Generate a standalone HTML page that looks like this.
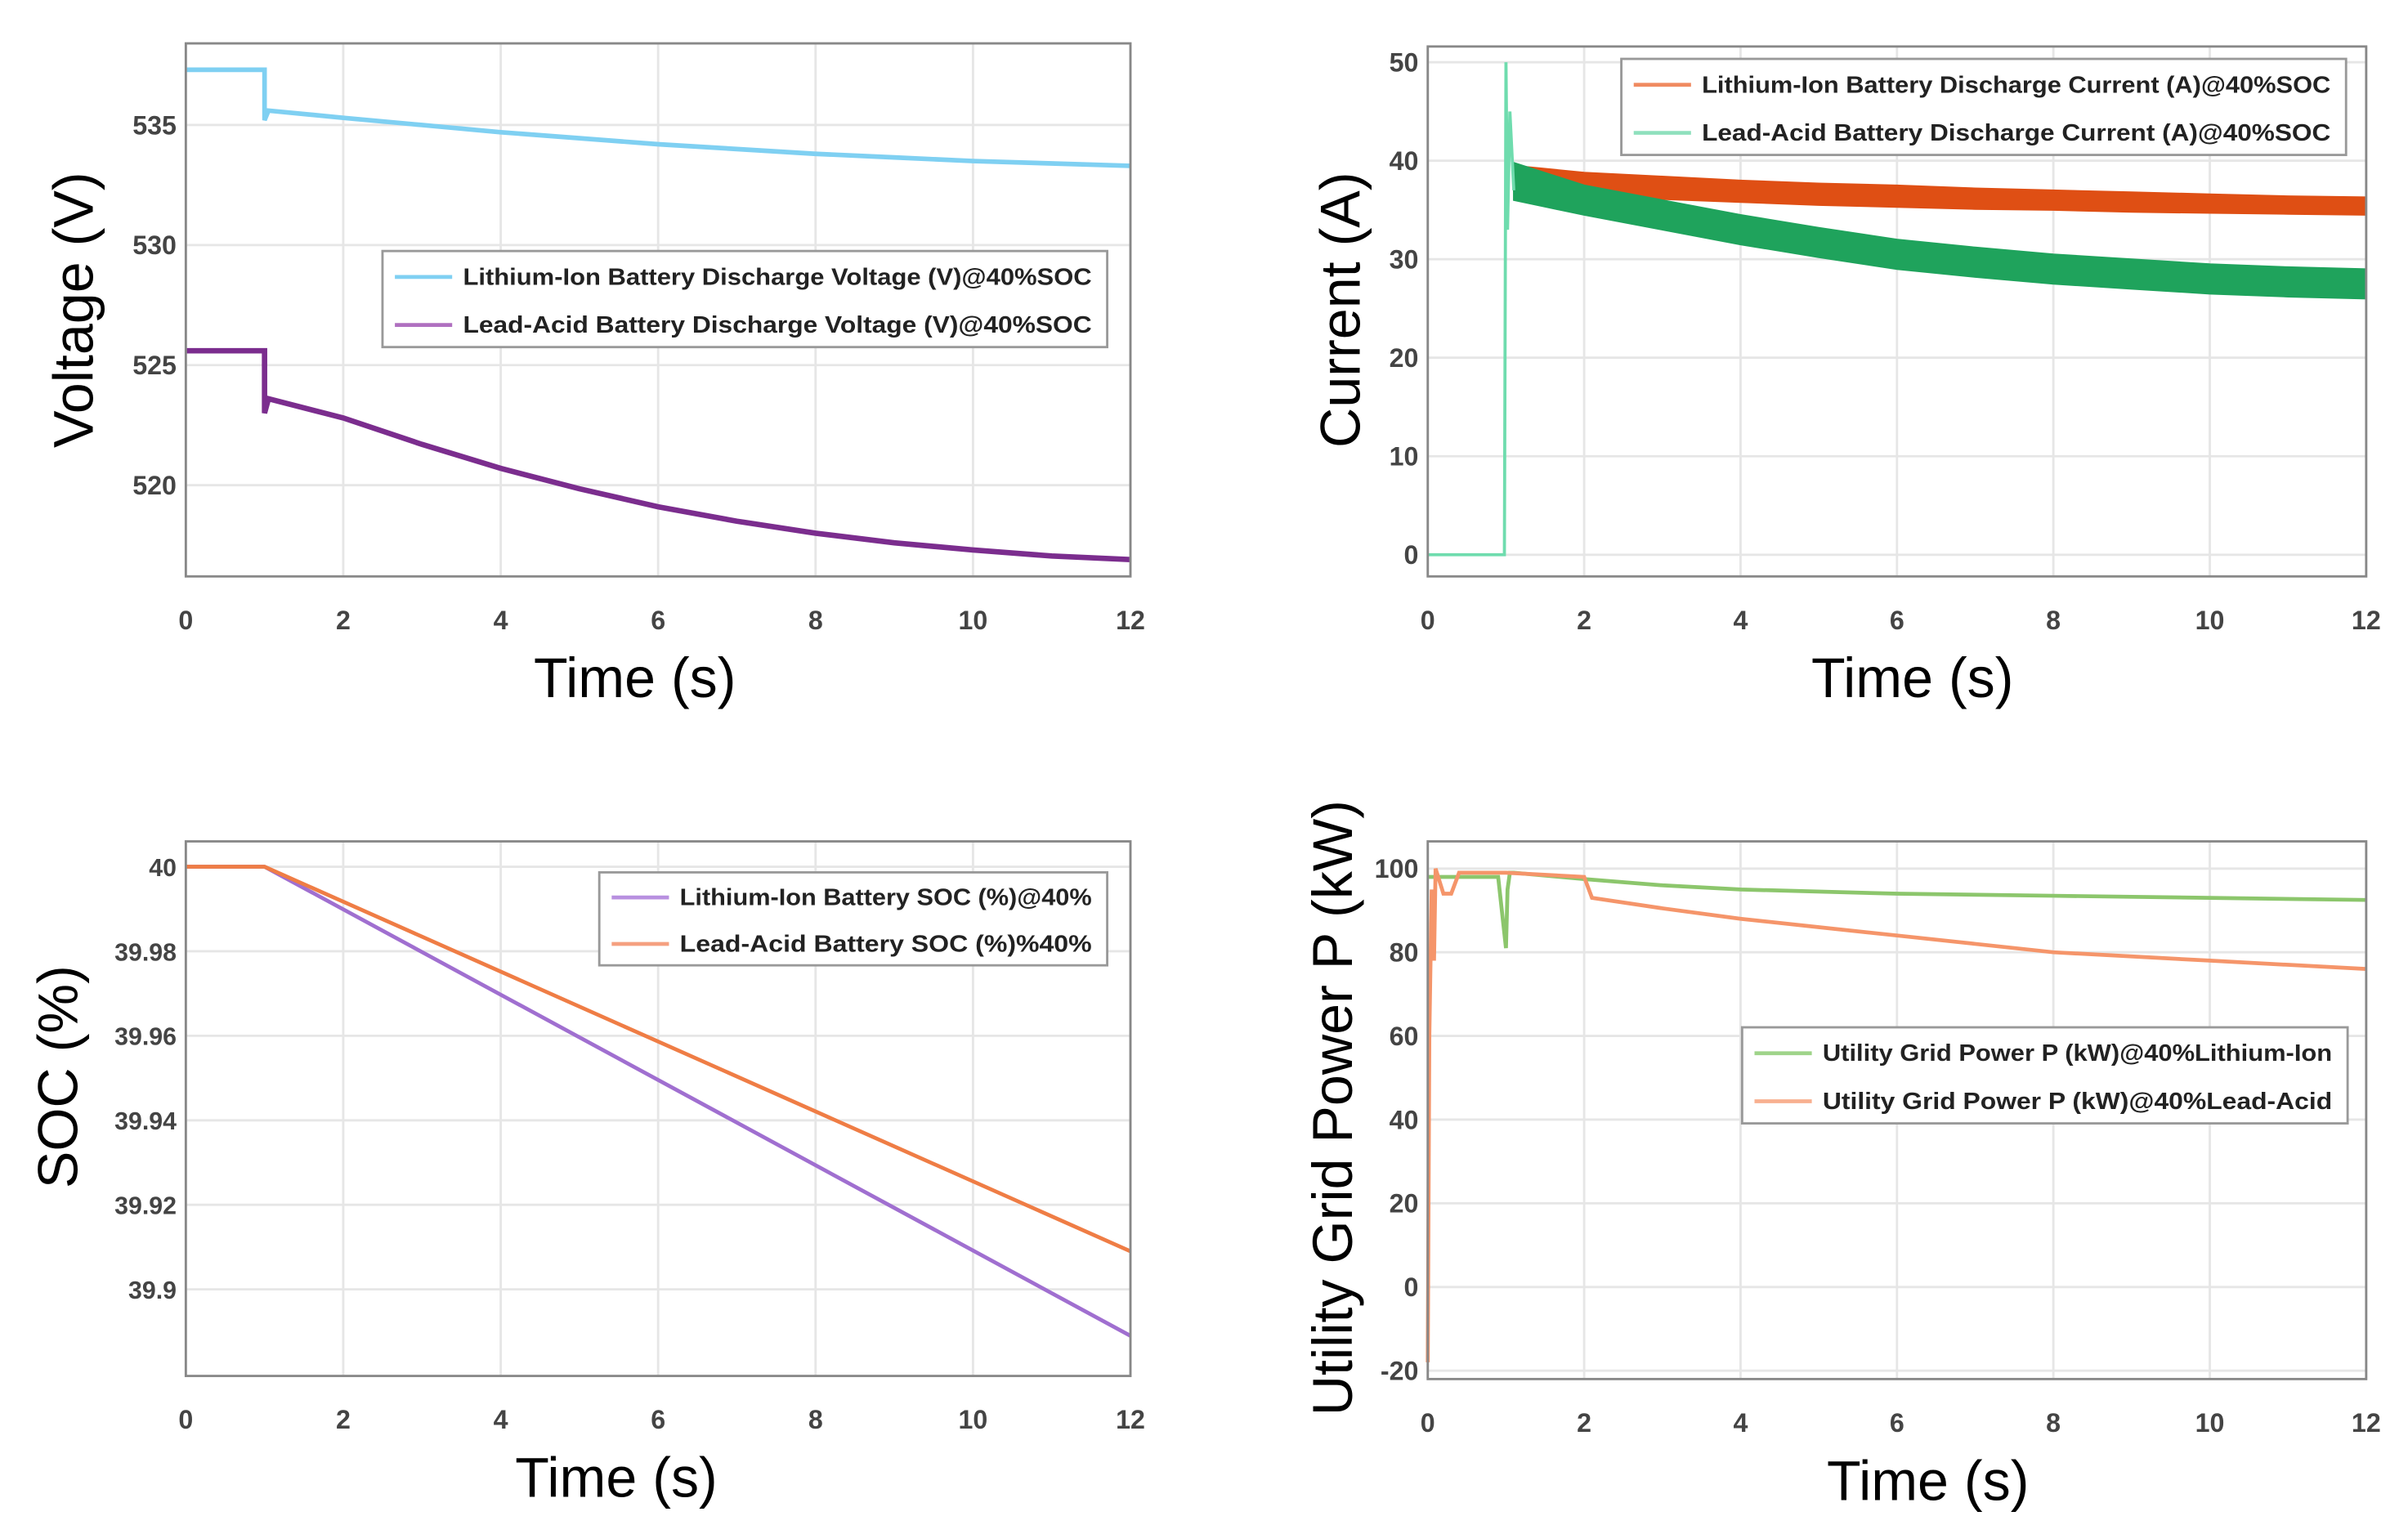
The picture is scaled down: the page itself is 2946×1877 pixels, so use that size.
<!DOCTYPE html>
<html><head><meta charset="utf-8"><style>
html,body{margin:0;padding:0;background:#fff}
svg{display:block}
text{font-family:"Liberation Sans",sans-serif}
</style></head><body>
<svg id="fig" width="2946" height="1877" viewBox="0 0 1555 990" preserveAspectRatio="none" xmlns="http://www.w3.org/2000/svg"></svg>
<script>
// ---- Data ----
const timeTicks=[0,2,4,6,8,10,12];
// Panel 1 voltage
const liVt=[0,1,1,1.05,2,3,4,5,6,7,8,9,10,11,12];
const liV=[537.3,537.3,535.2,535.6,535.3,535.0,534.7,534.45,534.2,534.0,533.8,533.65,533.5,533.4,533.3];
const laVt=[0,1,1,1.05,2,3,4,5,6,7,8,9,10,11,12];
const laV=[525.6,525.6,523,523.6,522.8,521.7,520.7,519.85,519.1,518.5,518,517.6,517.3,517.05,516.9];
const vTicks=[520,525,530,535];
// Panel 2 current
const curBandT=[1.1,2,3,4,5,6,7,8,9,10,11,12];
const liIup=[39.5,38.8,38.4,38,37.7,37.5,37.2,37,36.8,36.6,36.4,36.3];
const liIlo=[37,36.5,36.1,35.8,35.5,35.3,35.1,35,34.8,34.7,34.6,34.5];
const laIup=[39.8,37.5,36,34.5,33.2,32,31.2,30.5,30,29.5,29.2,29];
const laIlo=[36,34.5,33,31.5,30.2,29,28.2,27.5,27,26.5,26.2,26];
const spikeT=[0,0.98,1,1.02,1.05,1.1];
const spikeI=[0,0,50,33,45,37];
const iTicks=[0,10,20,30,40,50];
// Panel 3 SOC
const socT=[0,1,12];
const liSoc=[40,40,39.889];
const laSoc=[40,40,39.909];
const socTicks=[39.9,39.92,39.94,39.96,39.98,40];
const socTickLabels=["39.9","39.92","39.94","39.96","39.98","40"];
// Panel 4 power
const pLiT=[0,0.9,1,1.02,1.05,1.1,2,3,4,6,8,10,12];
const pLi=[98,98,81,95,99,99,97.5,96,95,94,93.5,93,92.5];
const pLaT=[0,0.02,0.05,0.08,0.1,0.2,0.3,0.4,1,2,2.1,3,4,5,6,7,8,9,10,11,12];
const pLa=[-18,60,95,78,100,94,94,99,99,98,93,90.5,88,86,84,82,80,79,78,77,76];
const pTicks=[-20,0,20,40,60,80,100];

const NS="http://www.w3.org/2000/svg";
const svg=document.getElementById('fig');
function el(tag,attrs,parent){const e=document.createElementNS(NS,tag);for(const k in attrs)e.setAttribute(k,attrs[k]);(parent||svg).appendChild(e);return e;}

function panel(cfg){
  const g=el('g',{});
  
  
  const X=t=>cfg.x0+(t-0)/(12-0)*(cfg.x1-cfg.x0);
  const Y=v=>cfg.y1-(v-cfg.ymin)/(cfg.ymax-cfg.ymin)*(cfg.y1-cfg.y0);
  el('rect',{x:cfg.x0,y:cfg.y0,width:cfg.x1-cfg.x0,height:cfg.y1-cfg.y0,fill:'#fff'},g);
  timeTicks.forEach(t=>{
    const l=el('line',{x1:X(t),x2:X(t),y1:cfg.y0,y2:cfg.y1,stroke:'#e6e6e6','stroke-width':1.5},g);
    
    const tx=el('text',{x:X(t),y:cfg.y1+34,'font-size':17,'text-anchor':'middle',fill:'#444','font-weight':'bold'},g);
    tx.textContent=t;
    
  });
  cfg.ticks.forEach((v,i)=>{
    const l=el('line',{x1:cfg.x0,x2:cfg.x1,y1:Y(v),y2:Y(v),stroke:'#e6e6e6','stroke-width':1.5},g);
    
    const tx=el('text',{x:cfg.x0-6,y:Y(v)+6,'font-size':cfg.tickFs||17,'text-anchor':'end',fill:'#444','font-weight':'bold'},g);
    tx.textContent=cfg.tickLabels?cfg.tickLabels[i]:v;
    
  });
  cfg.bands.forEach(b=>{
    let d='';b.t.forEach((t,i)=>d+=(i?'L':'M')+X(t)+','+Y(b.up[i]));
    for(let i=b.t.length-1;i>=0;i--)d+='L'+X(b.t[i])+','+Y(b.lo[i]);
    const p=el('path',{d:d+'Z',fill:b.color,stroke:b.color,'stroke-width':1},g);
    
  });
  cfg.series.forEach(s=>{
    const d=s.t.map((t,i)=>(i?'L':'M')+X(t)+','+Y(s.v[i])).join('');
    const p=el('path',{d:d,fill:'none',stroke:s.color,'stroke-width':s.w||2.5},g);
    
  });
  const fr=el('rect',{x:cfg.x0,y:cfg.y0,width:cfg.x1-cfg.x0,height:cfg.y1-cfg.y0,fill:'none',stroke:'#888','stroke-width':1.5},g);
  
  const xl=el('text',{x:(cfg.x0+cfg.x1)/2-(cfg.xlOff||0),y:cfg.y1+78,'font-size':36,'text-anchor':'middle',fill:'#000'},g);
  xl.textContent='Time (s)';
  
  const yl=el('text',{x:0,y:0,'font-size':36,'text-anchor':'middle',fill:'#000',transform:`translate(${cfg.ylx},${cfg.yly}) rotate(-90)`},g);
  yl.textContent=cfg.ylabel;
  
  // legend
  const L=cfg.legend;
  const lg=el('g',{},g);
  
  el('rect',{x:L.x,y:L.y,width:L.w,height:L.h,fill:'#fff',stroke:'#999','stroke-width':1.5},lg);
  L.items.forEach((it,i)=>{
    const yy=L.y+L.h*(0.27+0.5*i);
    const ln=el('line',{x1:L.x+8,x2:L.x+45,y1:yy,y2:yy,stroke:it.color,'stroke-width':2.5},lg);
    
    const tx=el('text',{x:L.x+52,y:yy+5,'font-size':15,'font-weight':'bold',fill:'#222',textLength:L.w-62,lengthAdjust:'spacingAndGlyphs'},lg);
    tx.textContent=it.label;
    
  });
}

panel({name:'voltage-chart',x0:120,x1:730,y0:28,y1:372,ymin:516.2,ymax:538.4,ticks:vTicks,
  ylabel:'Voltage (V)',ylx:60,yly:200,xlOff:15,bands:[],
  series:[{name:'li-ion-voltage-line',t:liVt,v:liV,color:'#7fd0f2',w:3},{name:'lead-acid-voltage-line',t:laVt,v:laV,color:'#7b2d8e',w:3.5}],
  legend:{x:247,y:162,w:468,h:62,items:[{label:'Lithium-Ion Battery Discharge Voltage (V)@40%SOC',color:'#7fd0f2'},{label:'Lead-Acid Battery Discharge Voltage (V)@40%SOC',color:'#b070c0'}]}});

panel({name:'current-chart',x0:922,x1:1528,y0:30,y1:372,ymin:-2.2,ymax:51.6,ticks:iTicks,
  ylabel:'Current (A)',ylx:878,yly:200,xlOff:-10,
  bands:[{name:'li-ion-current-band',t:curBandT,up:liIup,lo:liIlo,color:'#df4f14'},{name:'lead-acid-current-band',t:curBandT,up:laIup,lo:laIlo,color:'#1fa35c'}],
  series:[{name:'lead-acid-current-spike',t:spikeT,v:spikeI,color:'#6fdcae',w:2}],
  legend:{x:1047,y:38,w:468,h:62,items:[{label:'Lithium-Ion Battery Discharge Current (A)@40%SOC',color:'#f08a60'},{label:'Lead-Acid Battery Discharge Current (A)@40%SOC',color:'#8fe0bd'}]}});

panel({name:'soc-chart',x0:120,x1:730,y0:543,y1:888,ymin:39.8795,ymax:40.006,ticks:socTicks,tickLabels:socTickLabels,tickFs:16,
  ylabel:'SOC (%)',ylx:50,yly:695,xlOff:27,bands:[],
  series:[{name:'li-ion-soc-line',t:socT,v:liSoc,color:'#a06fd0',w:2.5},{name:'lead-acid-soc-line',t:socT,v:laSoc,color:'#ef7d45',w:2.5}],
  legend:{x:387,y:563,w:328,h:60,items:[{label:'Lithium-Ion Battery SOC (%)@40%',color:'#b890e0'},{label:'Lead-Acid Battery SOC (%)%40%',color:'#f5a080'}]}});

panel({name:'grid-power-chart',x0:922,x1:1528,y0:543,y1:890,ymin:-22,ymax:106.5,ticks:pTicks,
  ylabel:'Utility Grid Power P (kW)',ylx:873,yly:715,xlOff:-20,bands:[],
  series:[{name:'grid-power-li-ion-line',t:pLiT,v:pLi,color:'#8cc66c',w:2.5},{name:'grid-power-lead-acid-line',t:pLaT,v:pLa,color:'#f5956a',w:2.5}],
  legend:{x:1125,y:663,w:391,h:62,items:[{label:'Utility Grid Power P (kW)@40%Lithium-Ion',color:'#9fd48a'},{label:'Utility Grid Power P (kW)@40%Lead-Acid',color:'#f8b090'}]}});
</script>
</body></html>
